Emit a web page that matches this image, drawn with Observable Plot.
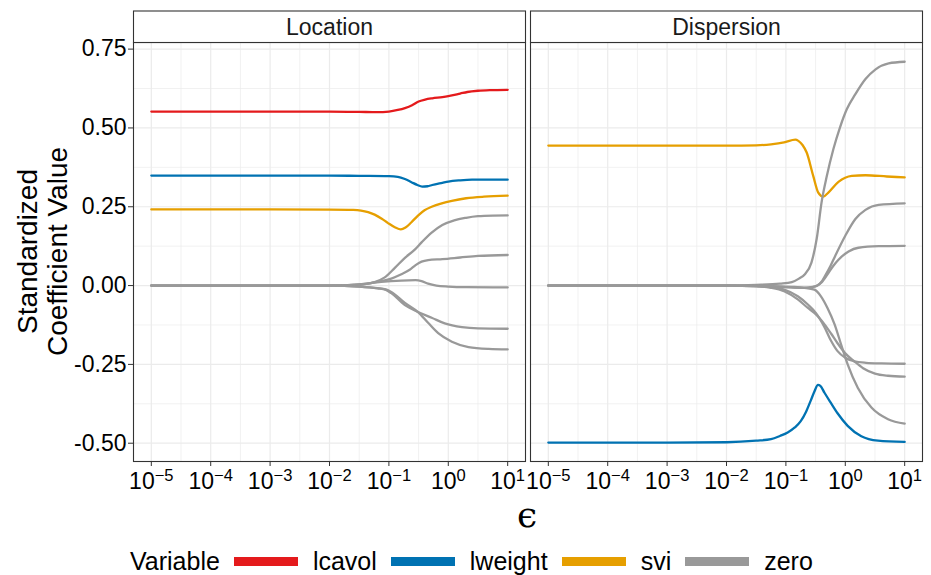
<!DOCTYPE html>
<html><head><meta charset="utf-8">
<script src="https://cdn.jsdelivr.net/npm/d3@7"></script>
<script src="https://cdn.jsdelivr.net/npm/@observablehq/plot@0.6"></script>
<style>
body{margin:0;background:#fff;font-family:"Liberation Sans",Arial,sans-serif;}
#legend{display:flex;align-items:center;height:42px;padding-left:130px;font-size:25px;color:#000;}
#legend .key{display:inline-block;width:64px;height:9px;margin-left:14px;margin-right:15px;}
</style></head><body>
<div id="chart"></div>
<div id="legend"></div>
<script>
// ---- categories / ticks ----
const facets = ["Location", "Dispersion"];
const variables = ["lcavol", "lweight", "svi", "zero"];
const colors = ["#E41A1C", "#0072B2", "#E69F00", "#999999"];
const xTickExponents = [-5, -4, -3, -2, -1, 0, 1];
const xMinorExponents = [-4.5, -3.5, -2.5, -1.5, -0.5, 0.5];
const yTicks = [-0.5, -0.25, 0, 0.25, 0.5, 0.75];
const yMinor = [-0.375, -0.125, 0.125, 0.375, 0.625];

// ---- series: [log10(epsilon), standardized coefficient] ----
const locLcavol = [[-5,0.552],[-4,0.552],[-3,0.552],[-2,0.552],[-1.5,0.551],[-1.2,0.550],[-1.0,0.552],[-0.85,0.557],[-0.73,0.563],[-0.61,0.572],[-0.5,0.584],[-0.39,0.590],[-0.27,0.594],[-0.1,0.598],[0,0.601],[0.2,0.609],[0.32,0.614],[0.5,0.618],[0.7,0.620],[1,0.621]];
const locLweight = [[-5,0.349],[-3,0.349],[-2,0.349],[-1.5,0.348],[-1.0,0.347],[-0.85,0.345],[-0.73,0.338],[-0.62,0.328],[-0.52,0.319],[-0.44,0.314],[-0.35,0.315],[-0.27,0.319],[-0.1,0.326],[0,0.330],[0.2,0.334],[0.4,0.336],[0.7,0.336],[1,0.336]];
const locSvi = [[-5,0.2415],[-3,0.2415],[-2,0.241],[-1.6,0.240],[-1.47,0.238],[-1.35,0.233],[-1.24,0.225],[-1.12,0.212],[-1.02,0.199],[-0.9,0.185],[-0.8,0.178],[-0.72,0.184],[-0.62,0.201],[-0.51,0.222],[-0.4,0.239],[-0.28,0.250],[-0.11,0.261],[0.06,0.269],[0.3,0.277],[0.6,0.282],[1,0.285]];
const locZero1 = [[-5,0],[-2,0],[-1.6,0.002],[-1.4,0.005],[-1.24,0.011],[-1.07,0.026],[-0.9,0.056],[-0.73,0.088],[-0.56,0.115],[-0.45,0.137],[-0.28,0.168],[-0.1,0.192],[0.1,0.207],[0.3,0.215],[0.5,0.220],[0.75,0.222],[1,0.2225]];
const locZero2 = [[-5,0],[-2,0],[-1.5,0.003],[-1.19,0.012],[-0.96,0.022],[-0.8,0.035],[-0.65,0.050],[-0.55,0.065],[-0.45,0.076],[-0.34,0.081],[-0.1,0.084],[0.2,0.089],[0.5,0.094],[1,0.097]];
const locZero3 = [[-5,0],[-2,0],[-1.5,0.004],[-1.13,0.012],[-0.79,0.016],[-0.55,0.017],[-0.45,0.014],[-0.34,0.006],[-0.2,0.0],[0,-0.003],[0.3,-0.005],[1,-0.006]];
const locZero4 = [[-5,0],[-2,0],[-1.5,-0.003],[-1.19,-0.009],[-1.05,-0.014],[-0.96,-0.024],[-0.73,-0.062],[-0.51,-0.084],[-0.28,-0.102],[-0.06,-0.120],[0.23,-0.132],[0.5,-0.136],[1,-0.137]];
const locZero5 = [[-5,0],[-2,0],[-1.5,-0.003],[-1.19,-0.008],[-1.05,-0.012],[-0.96,-0.020],[-0.73,-0.055],[-0.51,-0.084],[-0.34,-0.118],[-0.17,-0.151],[0.06,-0.178],[0.34,-0.195],[0.68,-0.201],[1,-0.2025]];

const dispSvi = [[-5,0.444],[-3,0.444],[-2,0.444],[-1.5,0.445],[-1.25,0.448],[-1.03,0.454],[-0.84,0.463],[-0.79,0.459],[-0.72,0.446],[-0.65,0.422],[-0.54,0.348],[-0.455,0.295],[-0.37,0.282],[-0.285,0.295],[-0.115,0.329],[0.11,0.348],[0.34,0.350],[0.7,0.346],[1,0.343]];
const dispLweight = [[-5,-0.498],[-3,-0.498],[-2,-0.497],[-1.5,-0.492],[-1.25,-0.487],[-1.1,-0.477],[-0.97,-0.466],[-0.85,-0.450],[-0.75,-0.430],[-0.66,-0.400],[-0.58,-0.364],[-0.52,-0.336],[-0.46,-0.315],[-0.42,-0.318],[-0.35,-0.340],[-0.25,-0.370],[-0.13,-0.405],[0.04,-0.445],[0.27,-0.478],[0.55,-0.492],[1,-0.496]];
const dispZero1 = [[-5,0],[-2,0],[-1.5,0.002],[-1.1,0.006],[-0.9,0.011],[-0.78,0.022],[-0.68,0.036],[-0.57,0.073],[-0.48,0.150],[-0.4,0.263],[-0.31,0.348],[-0.2,0.433],[-0.09,0.501],[0.025,0.559],[0.17,0.607],[0.34,0.655],[0.51,0.686],[0.73,0.705],[1,0.710]];
const dispZero2 = [[-5,0],[-2,0],[-1.4,-0.002],[-1.0,-0.005],[-0.7,-0.007],[-0.55,-0.004],[-0.47,0.0],[-0.4,0.012],[-0.34,0.031],[-0.25,0.062],[-0.17,0.094],[0.0,0.158],[0.17,0.211],[0.34,0.240],[0.56,0.256],[1,0.261]];
const dispZero3 = [[-5,0],[-2,0],[-1.4,-0.002],[-1.0,-0.005],[-0.7,-0.007],[-0.55,-0.005],[-0.47,0.0],[-0.4,0.010],[-0.285,0.040],[-0.2,0.063],[-0.115,0.082],[0.055,0.108],[0.22,0.120],[0.56,0.125],[1,0.126]];
const dispZero4 = [[-5,0],[-2,0],[-1.5,-0.002],[-1.25,-0.005],[-1.03,-0.013],[-0.8,-0.034],[-0.63,-0.060],[-0.49,-0.088],[-0.35,-0.132],[-0.24,-0.175],[-0.13,-0.208],[0.0,-0.229],[0.15,-0.240],[0.35,-0.245],[0.61,-0.247],[1,-0.248]];
const dispZero5 = [[-5,0],[-2,0],[-1.5,-0.002],[-1.25,-0.007],[-1.03,-0.018],[-0.8,-0.044],[-0.63,-0.071],[-0.49,-0.092],[-0.35,-0.123],[-0.24,-0.152],[-0.13,-0.183],[0.0,-0.215],[0.15,-0.240],[0.3,-0.262],[0.5,-0.279],[0.72,-0.286],[1,-0.289]];
const dispZero6 = [[-5,0],[-2,0],[-1.25,-0.002],[-0.9,-0.004],[-0.69,-0.007],[-0.52,-0.013],[-0.41,-0.034],[-0.30,-0.071],[-0.18,-0.123],[-0.07,-0.187],[0.04,-0.25],[0.21,-0.324],[0.44,-0.387],[0.72,-0.424],[1,-0.438]];

const series = [
  {facet: "Location", variable: "lcavol", pts: locLcavol},
  {facet: "Location", variable: "lweight", pts: locLweight},
  {facet: "Location", variable: "svi", pts: locSvi},
  {facet: "Location", variable: "zero", pts: locZero1},
  {facet: "Location", variable: "zero", pts: locZero2},
  {facet: "Location", variable: "zero", pts: locZero3},
  {facet: "Location", variable: "zero", pts: locZero4},
  {facet: "Location", variable: "zero", pts: locZero5},
  {facet: "Dispersion", variable: "lweight", pts: dispLweight},
  {facet: "Dispersion", variable: "svi", pts: dispSvi},
  {facet: "Dispersion", variable: "zero", pts: dispZero1},
  {facet: "Dispersion", variable: "zero", pts: dispZero2},
  {facet: "Dispersion", variable: "zero", pts: dispZero3},
  {facet: "Dispersion", variable: "zero", pts: dispZero4},
  {facet: "Dispersion", variable: "zero", pts: dispZero5},
  {facet: "Dispersion", variable: "zero", pts: dispZero6}
];
const rows = series.flatMap((s, i) => s.pts.map(([l, v]) => ({facet: s.facet, variable: s.variable, id: i, eps: Math.pow(10, l), value: v})));
const colored = rows.filter(d => d.variable !== "zero");
const grays = rows.filter(d => d.variable === "zero");
const xMajor = xTickExponents.map(e => Math.pow(10, e));
const xMinor = xMinorExponents.map(e => Math.pow(10, e));

const W = 931, H = 540;
const chart = Plot.plot({
  width: W, height: H,
  marginLeft: 133, marginRight: 9, marginTop: 42, marginBottom: 79,
  style: {fontFamily: "'Liberation Sans', Arial, sans-serif", fontSize: "23px", color: "#000", background: "#fff", overflow: "visible"},
  fx: {domain: facets, paddingInner: 0.0136, paddingOuter: 0, label: null, axis: null},
  x: {type: "log", domain: [Math.pow(10, -5.3), Math.pow(10, 1.3)]},
  y: {domain: [-0.558, 0.771]},
  color: {domain: variables, range: colors},
  marks: [
    Plot.gridX(xMinor, {stroke: "#EBEBEB", strokeOpacity: 1, strokeWidth: 0.7}),
    Plot.gridX(xMajor, {stroke: "#EBEBEB", strokeOpacity: 1, strokeWidth: 1.2}),
    Plot.gridY(yMinor, {stroke: "#EBEBEB", strokeOpacity: 1, strokeWidth: 0.7}),
    Plot.gridY(yTicks, {stroke: "#EBEBEB", strokeOpacity: 1, strokeWidth: 1.2}),
    Plot.lineY(colored, {x: "eps", y: "value", fx: "facet", z: "id", stroke: "variable", strokeWidth: 2.3, curve: "monotone-x"}),
    Plot.lineY(grays, {x: "eps", y: "value", fx: "facet", z: "id", stroke: "variable", strokeWidth: 2.3, curve: "monotone-x"}),
    Plot.frame({stroke: "#333", strokeWidth: 1.1}),
    Plot.axisX(xMajor, {tickSize: 5, tickPadding: 6, stroke: "#333", fill: "#000", fontSize: 23, label: null,
      tickFormat: e => "10^" + Math.round(Math.log10(e))}),
    Plot.axisY(yTicks, {tickSize: 5, tickPadding: 2, stroke: "#333", fill: "#000", fontSize: 23, label: null,
      tickFormat: d => d.toFixed(2)})
  ]
});
document.getElementById("chart").append(chart);
const svg = d3.select(chart);

// superscript tick labels
svg.selectAll('g[aria-label="x-axis tick label"] text').each(function() {
  const t = this.textContent;
  const parts = t.split("^");
  if (parts.length !== 2) return;
  const exp = parts[1].replace("-", "\u2212");
  const sel = d3.select(this);
  sel.text(null);
  sel.append("tspan").text(parts[0]);
  sel.append("tspan").attr("dy", "-0.48em").attr("font-size", "0.72em").text(exp);
});

// facet strips
const svgRect = chart.getBoundingClientRect();
const frameRects = chart.querySelectorAll('g[aria-label="frame"] rect');
const stripG = svg.append("g");
frameRects.forEach((r, i) => {
  const b = r.getBoundingClientRect();
  const x0 = b.left - svgRect.left, w = b.width, top = b.top - svgRect.top;
  stripG.append("rect").attr("x", x0).attr("y", 11).attr("width", w).attr("height", top - 11)
    .attr("fill", "#fff").attr("stroke", "#333").attr("stroke-width", 1.1);
  stripG.append("text").attr("x", x0 + w / 2).attr("y", 11 + (top - 11) / 2).attr("dy", "0.36em")
    .attr("text-anchor", "middle").attr("font-size", 23).attr("fill", "#1a1a1a").text(facets[i]);
});

// axis titles
const yTitle = svg.append("text").attr("transform", "translate(0,251.5) rotate(-90)")
  .attr("text-anchor", "middle").attr("font-size", 28).attr("fill", "#000");
yTitle.append("tspan").attr("x", 0).attr("y", 37).text("Standardized");
yTitle.append("tspan").attr("x", 0).attr("y", 67).text("Coefficient Value");
svg.append("text").attr("x", 527).attr("y", 527).attr("text-anchor", "middle")
  .attr("font-family", "'DejaVu Serif', serif").attr("font-size", 36).attr("fill", "#000").text("\u03F5");

// legend
const legend = d3.select("#legend");
legend.append("span").text("Variable");
variables.forEach((v, i) => {
  legend.append("span").attr("class", "key").style("background", colors[i]);
  legend.append("span").text(v);
});
</script>
</body></html>
